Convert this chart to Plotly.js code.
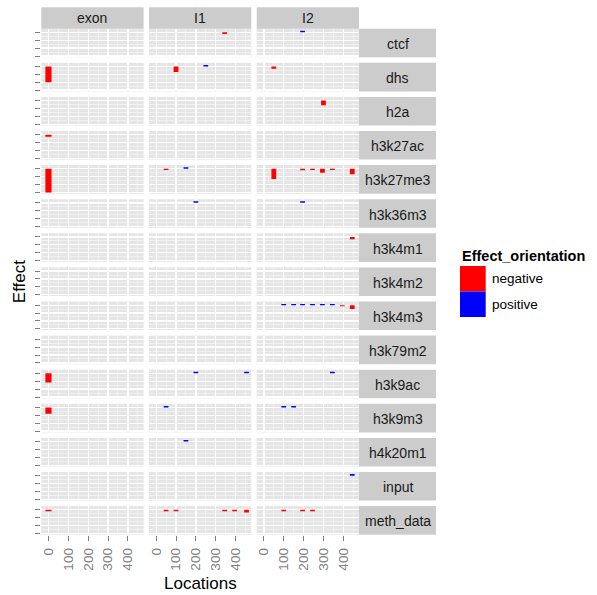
<!DOCTYPE html>
<html>
<head>
<meta charset="utf-8">
<script src="https://cdn.plot.ly/plotly-3.0.1.min.js"></script>
<style>html,body{margin:0;padding:0;background:#fff;}#chart{width:597px;height:595px;}</style>
</head>
<body>
<div id="chart"></div>
<script>
// ---------- data ----------
const effects = ['ctcf','dhs','h2a','h3k27ac','h3k27me3','h3k36m3','h3k4m1','h3k4m2','h3k4m3','h3k79m2','h3k9ac','h3k9m3','h4k20m1','input','meth_data'];
const regions = ['exon','I1','I2'];
const xTickVals = [0,100,200,300,400];
const xTickLabels = ['0','100','200','300','400'];
const yTickVals = [-3,-2,-1,0];
const orientations = ['negative','positive'];

// one entry per tile
const tileEffect = ['ctcf','ctcf',
  'dhs','dhs','dhs','dhs',
  'h2a',
  'h3k27ac',
  'h3k27me3','h3k27me3','h3k27me3','h3k27me3','h3k27me3','h3k27me3','h3k27me3','h3k27me3','h3k27me3',
  'h3k36m3','h3k36m3',
  'h3k4m1',
  'h3k4m3','h3k4m3','h3k4m3','h3k4m3','h3k4m3','h3k4m3','h3k4m3','h3k4m3',
  'h3k9ac','h3k9ac','h3k9ac','h3k9ac',
  'h3k9m3','h3k9m3','h3k9m3','h3k9m3',
  'h4k20m1',
  'input',
  'meth_data','meth_data','meth_data','meth_data','meth_data','meth_data','meth_data','meth_data','meth_data'];
const tileRegion = ['I1','I2',
  'exon','I1','I1','I2',
  'I2',
  'exon',
  'exon','I1','I1','I2','I2','I2','I2','I2','I2',
  'I1','I2',
  'I2',
  'I2','I2','I2','I2','I2','I2','I2','I2',
  'exon','I1','I1','I2',
  'exon','I1','I2','I2',
  'I1',
  'I2',
  'exon','I1','I1','I1','I1','I1','I2','I2','I2'];
const tileLocation = [345,195,
  0,100,250,50,
  300,
  0,
  0,50,150,50,195,245,295,345,445,
  200,195,
  445,
  100,150,195,245,295,345,395,445,
  0,200,455,345,
  0,50,100,150,
  150,
  445,
  0,50,100,345,395,455,100,195,245];
const tileValue = [-0.2,0.2,
  -2.0,-0.7,0.2,-0.3,
  -0.6,
  -0.25,
  -3.0,-0.15,0.2,-1.3,-0.2,-0.15,-0.5,-0.15,-0.7,
  0.2,0.2,
  -0.3,
  0.15,0.15,0.15,0.15,0.15,0.15,-0.15,-0.5,
  -1.15,0.2,0.2,0.2,
  -0.8,0.2,0.2,0.2,
  0.2,
  0.2,
  -0.2,-0.2,-0.2,-0.2,-0.2,-0.35,-0.2,-0.2,-0.2];

// ---------- styling / layout geometry ----------
const W = 597, H = 595;
const fx = p => p / W;
const fy = p => 1 - p / H;
const colLeft = [41.3, 149, 256.7], colW = 102.3;
const rowTop0 = 28.7, rowH = 28.6, rowPitch = 34.1;
const stripTop = 7.3, stripRight = 436;
const colors = {negative: '#FF0000', positive: '#0000FF'};
const barWidth = {exon: 31, I1: 24, I2: 24};
const FONT = 'Liberation Sans, Arial, sans-serif';
const nR = effects.length;

const layout = {
  width: W, height: H,
  margin: {l: 0, r: 0, t: 0, b: 0, pad: 0},
  paper_bgcolor: '#FFFFFF',
  plot_bgcolor: '#E5E5E5',
  showlegend: false,
  barmode: 'overlay',
  font: {family: FONT, color: '#000000'},
  shapes: [],
  annotations: []
};

regions.forEach((reg, c) => {
  const name = 'xaxis' + (c ? c + 1 : '');
  layout[name] = {
    domain: [fx(colLeft[c]), fx(colLeft[c] + colW)],
    anchor: 'y' + nR,
    range: [-36, 479],
    tickmode: 'array', tickvals: xTickVals, ticktext: xTickLabels,
    tickangle: -90,
    ticks: 'outside', ticklen: 5, tickwidth: 1, tickcolor: '#7F7F7F',
    ticklabelstandoff: 2,
    tickfont: {family: FONT, size: 13.5, color: '#7F7F7F'},
    showgrid: true, gridcolor: '#FFFFFF', gridwidth: 1.3,
    minor: {tickmode: 'array', tickvals: [50,150,250,350,450], showgrid: true, gridcolor: '#F2F2F2', gridwidth: 0.8, ticks: ''},
    zeroline: false, showline: false, fixedrange: true
  };
  // column strip
  layout.shapes.push({type: 'rect', xref: 'paper', yref: 'paper',
    x0: fx(colLeft[c]), x1: fx(colLeft[c] + colW), y0: fy(stripTop), y1: fy(rowTop0),
    fillcolor: '#CCCCCC', line: {width: 0}, layer: 'below'});
  layout.annotations.push({xref: 'paper', yref: 'paper', x: fx(colLeft[c] + colW / 2), y: fy((stripTop + rowTop0) / 2),
    text: reg, showarrow: false, xanchor: 'center', yanchor: 'middle',
    font: {family: FONT, size: 14, color: '#1A1A1A'}});
});

effects.forEach((eff, r) => {
  const name = 'yaxis' + (r ? r + 1 : '');
  const top = rowTop0 + r * rowPitch;
  layout[name] = {
    domain: [fy(top + rowH), fy(top)],
    anchor: 'x',
    range: [-3.165, 0.465],
    tickmode: 'array', tickvals: yTickVals, ticktext: ['', '', '', ''],
    showticklabels: false,
    ticks: 'outside', ticklen: 5, tickwidth: 1, tickcolor: '#7F7F7F',
    showgrid: true, gridcolor: '#FFFFFF', gridwidth: 1.3,
    minor: {tickmode: 'array', tickvals: [-2.5,-1.5,-0.5], showgrid: true, gridcolor: '#F2F2F2', gridwidth: 0.8, ticks: ''},
    zeroline: false, showline: false, fixedrange: true
  };
  // row strip
  const x0 = colLeft[2] + colW;
  layout.shapes.push({type: 'rect', xref: 'paper', yref: 'paper',
    x0: fx(x0), x1: fx(stripRight), y0: fy(top + rowH), y1: fy(top),
    fillcolor: '#CCCCCC', line: {width: 0}, layer: 'below'});
  layout.annotations.push({xref: 'paper', yref: 'paper', x: fx((x0 + stripRight) / 2), y: fy(top + rowH / 2 + 1),
    text: eff, showarrow: false, xanchor: 'center', yanchor: 'middle',
    font: {family: FONT, size: 14, color: '#1A1A1A'}});
});

// axis titles
const panelsMidX = (colLeft[0] + colLeft[2] + colW) / 2;
const panelsBottom = rowTop0 + (nR - 1) * rowPitch + rowH;
layout.annotations.push({xref: 'paper', yref: 'paper', x: fx(panelsMidX), y: fy(583),
  text: 'Locations', showarrow: false, xanchor: 'center', yanchor: 'middle',
  font: {family: FONT, size: 17, color: '#000000'}});
layout.annotations.push({xref: 'paper', yref: 'paper', x: fx(19.5), y: fy((rowTop0 + panelsBottom) / 2),
  text: 'Effect', textangle: -90, showarrow: false, xanchor: 'center', yanchor: 'middle',
  font: {family: FONT, size: 17, color: '#000000'}});

// legend (drawn manually to match key size)
const legX = 460, legKeyW = 25.7, legKeyH = 25.5, legTop = 266;
layout.annotations.push({xref: 'paper', yref: 'paper', x: fx(legX), y: fy(256),
  text: '<b>Effect_orientation</b>', showarrow: false, xanchor: 'left', yanchor: 'middle',
  font: {family: FONT, size: 14.5, color: '#000000'}});
orientations.forEach((o, i) => {
  const t = legTop + i * legKeyH;
  layout.shapes.push({type: 'rect', xref: 'paper', yref: 'paper',
    x0: fx(legX), x1: fx(legX + legKeyW), y0: fy(t + legKeyH), y1: fy(t),
    fillcolor: colors[o], line: {width: 0}});
  layout.annotations.push({xref: 'paper', yref: 'paper', x: fx(legX + legKeyW + 4), y: fy(t + legKeyH / 2),
    text: o, showarrow: false, xanchor: 'left', yanchor: 'middle',
    font: {family: FONT, size: 13.5, color: '#000000'}});
});

// ---------- traces: one bar trace per panel ----------
const traces = [];
regions.forEach((reg, c) => {
  effects.forEach((eff, r) => {
    const xs = [], ys = [], cs = [], ws = [];
    for (let i = 0; i < tileLocation.length; i++) {
      if (tileRegion[i] === reg && tileEffect[i] === eff) {
        xs.push(tileLocation[i]);
        ys.push(tileValue[i]);
        cs.push(tileValue[i] < 0 ? colors.negative : colors.positive);
        ws.push(barWidth[reg]);
      }
    }
    traces.push({
      type: 'bar', x: xs, y: ys, width: ws,
      marker: {color: cs, line: {width: 0}},
      xaxis: 'x' + (c ? c + 1 : ''), yaxis: 'y' + (r ? r + 1 : ''),
      hoverinfo: 'skip', showlegend: false
    });
  });
});

Plotly.newPlot('chart', traces, layout, {staticPlot: true, displayModeBar: false});
</script>
</body>
</html>
